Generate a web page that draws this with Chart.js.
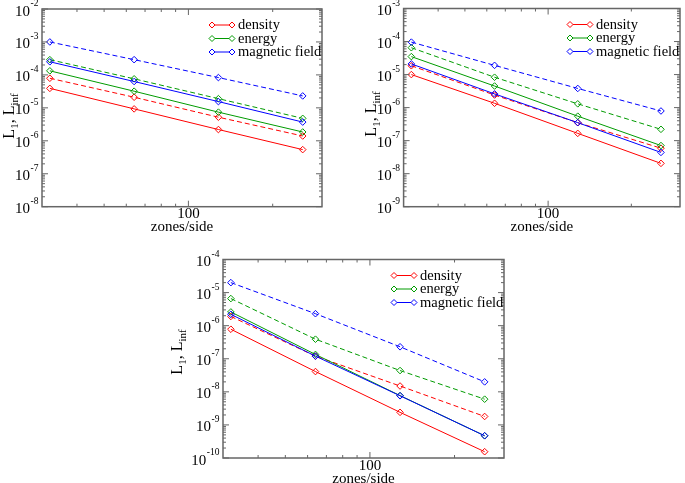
<!DOCTYPE html>
<html>
<head>
<meta charset="utf-8">
<script src="https://cdn.jsdelivr.net/npm/chart.js@4.4.1/dist/chart.umd.min.js"></script>
<style>
  body { margin: 0; background: #fff; width: 685px; height: 483px; position: relative; overflow: hidden; }
  canvas { position: absolute; }
</style>
</head>
<body>
<canvas id="errA" width="340" height="240" style="left:0;top:0"></canvas>
<canvas id="errB" width="345" height="240" style="left:340px;top:0"></canvas>
<canvas id="errC" width="360" height="243" style="left:160px;top:240px"></canvas>
<script>
// resolution of each run
const zones = [32, 64, 128, 256];
const seriesNames = ['density', 'energy', 'magnetic field'];
const seriesColors = ['rgb(255,0,0)', 'rgb(0,155,0)', 'rgb(0,0,255)'];
const xTickLabels = ['100'];

// top left panel (solid = L1, dashed = Linf)
const densityL1A = [3.9e-5, 9.3e-6, 2.2e-6, 5.4e-7];
const densityLinfA = [7.9e-5, 2.1e-5, 5.2e-6, 1.4e-6];
const energyL1A = [1.33e-4, 3.2e-5, 7.4e-6, 1.85e-6];
const energyLinfA = [2.9e-4, 7.6e-5, 1.9e-5, 4.8e-6];
const magL1A = [2.5e-4, 6.3e-5, 1.55e-5, 3.7e-6];
const magLinfA = [1.0e-3, 2.9e-4, 8.3e-5, 2.3e-5];

// top right panel
const densityL1B = [1.0e-5, 1.35e-6, 1.66e-7, 2.05e-8];
const densityLinfB = [1.85e-5, 2.4e-6, 3.5e-7, 5.9e-8];
const energyL1B = [3.5e-5, 4.5e-6, 5.5e-7, 7.1e-8];
const energyLinfB = [6.5e-5, 8.3e-6, 1.3e-6, 2.2e-7];
const magL1B = [2.1e-5, 2.6e-6, 3.5e-7, 4.4e-8];
const magLinfB = [9.6e-5, 1.9e-5, 3.8e-6, 7.9e-7];

// bottom panel
const densityL1C = [7.8e-7, 4.1e-8, 2.4e-9, 1.55e-10];
const densityLinfC = [1.9e-6, 1.2e-7, 1.5e-8, 1.8e-9];
const energyL1C = [2.6e-6, 1.35e-7, 7.7e-9, 4.7e-10];
const energyLinfC = [6.6e-6, 3.9e-7, 4.4e-8, 6.0e-9];
const magL1C = [2.2e-6, 1.2e-7, 7.6e-9, 4.7e-10];
const magLinfC = [2.0e-5, 2.3e-6, 2.3e-7, 2.0e-8];

const FONT = '"Liberation Serif", "Times New Roman", serif';

function lineSet(values, color, dashed) {
    return {
        data: zones.map((z, i) => ({x: z, y: values[i]})),
        borderColor: color,
        borderWidth: 1,
        borderDash: dashed ? [5, 3] : [],
        pointStyle: 'rectRot',
        pointRadius: 3.3,
        pointBorderWidth: 1,
        pointBorderColor: color,
        pointBackgroundColor: 'rgba(255,255,255,0)',
        fill: false,
        tension: 0,
    };
}

// frame, inward ticks, tick labels, titles and legend
const framePlugin = {
    id: 'frame',
    afterDraw(chart, args, opts) {
        const ctx = chart.ctx;
        const a = chart.chartArea;
        const x = chart.scales.x;
        const y = chart.scales.y;
        ctx.save();
        ctx.strokeStyle = '#666';
        ctx.lineWidth = 1.5;
        ctx.strokeRect(a.left, a.top, a.right - a.left, a.bottom - a.top);

        ctx.lineWidth = 1;
        const hTick = (px, len) => {
            ctx.beginPath();
            ctx.moveTo(px, a.bottom); ctx.lineTo(px, a.bottom - len);
            ctx.moveTo(px, a.top); ctx.lineTo(px, a.top + len);
            ctx.stroke();
        };
        const vTick = (py, len) => {
            ctx.beginPath();
            ctx.moveTo(a.left, py); ctx.lineTo(a.left + len, py);
            ctx.moveTo(a.right, py); ctx.lineTo(a.right - len, py);
            ctx.stroke();
        };
        [40, 50, 60, 70, 80, 90, 200].forEach(v => hTick(x.getPixelForValue(v), 3));
        [100].forEach(v => hTick(x.getPixelForValue(v), 6));

        // x tick label and title
        ctx.fillStyle = '#000';
        ctx.textAlign = 'center';
        ctx.textBaseline = 'alphabetic';
        ctx.font = '15px ' + FONT;
        xTickLabels.forEach(t => ctx.fillText(t, x.getPixelForValue(Number(t)), a.bottom + 11.5));
        ctx.fillText('zones/side', (a.left + a.right) / 2, a.bottom + 24.5);

        // y ticks and labels
        for (let e = opts.yMin; e <= opts.yMax; e++) {
            const py = y.getPixelForValue(Number('1e' + e));
            vTick(py, 6);
            if (e < opts.yMax) {
                for (let k = 2; k <= 9; k++) vTick(y.getPixelForValue(Number(k + 'e' + e)), 3);
            }
            const expText = String(e);
            ctx.font = '9.5px ' + FONT;
            const ew = ctx.measureText(expText).width;
            ctx.textAlign = 'left';
            ctx.fillText(expText, a.left - 3.5 - ew, py - 3);
            ctx.font = '15px ' + FONT;
            ctx.textAlign = 'right';
            ctx.fillText('10', a.left - 4 - ew, py + 6.5);
        }

        // rotated y title with subscripts
        const parts = [['L', false], ['1', true], [', L', false], ['inf', true]];
        ctx.translate(opts.titleX, opts.titleY);
        ctx.rotate(-Math.PI / 2);
        ctx.textAlign = 'left';
        let total = 0;
        parts.forEach(p => { ctx.font = (p[1] ? '11px ' : '16px ') + FONT; total += ctx.measureText(p[0]).width; });
        let cx = -total / 2;
        parts.forEach(p => {
            ctx.font = (p[1] ? '11px ' : '16px ') + FONT;
            ctx.fillText(p[0], cx, p[1] ? 4 : 0);
            cx += ctx.measureText(p[0]).width;
        });
        ctx.setTransform(1, 0, 0, 1, 0, 0);

        // legend
        const lx = a.right - 110;
        seriesNames.forEach((name, i) => {
            const ly = a.top + 16 + i * 13.5;
            ctx.strokeStyle = seriesColors[i];
            ctx.beginPath();
            ctx.moveTo(lx, ly); ctx.lineTo(lx + 20, ly);
            ctx.stroke();
            [lx, lx + 20].forEach(px => {
                ctx.beginPath();
                ctx.moveTo(px - 3, ly); ctx.lineTo(px, ly - 3); ctx.lineTo(px + 3, ly); ctx.lineTo(px, ly + 3);
                ctx.closePath();
                ctx.fillStyle = '#fff';
                ctx.fill();
                ctx.stroke();
            });
            ctx.fillStyle = '#000';
            ctx.font = '14.5px ' + FONT;
            ctx.fillText(name, lx + 26, ly + 4);
        });
        ctx.restore();
    }
};

function makePanel(id, box, yMin, yMax, sets) {
    // Chart.js paints the first dataset on top, so magnetic field goes first
    const datasets = [];
    for (let i = sets.length - 1; i >= 0; i--) {
        datasets.push(lineSet(sets[i][0], seriesColors[i], false));
        datasets.push(lineSet(sets[i][1], seriesColors[i], true));
    }
    return new Chart(document.getElementById(id), {
        type: 'line',
        data: {datasets},
        plugins: [framePlugin],
        options: {
            responsive: false,
            animation: false,
            events: [],
            layout: {padding: {left: 0, top: box.top, right: box.w - box.right, bottom: 0}},
            plugins: {
                legend: {display: false},
                tooltip: {enabled: false},
                frame: {yMin, yMax, titleX: box.titleX, titleY: box.titleY},
            },
            scales: {
                x: {
                    type: 'logarithmic', min: 30, max: 300,
                    ticks: {display: false},
                    grid: {display: false, drawTicks: false},
                    border: {display: false},
                    afterFit: s => { s.height = box.h - box.bottom; },
                },
                y: {
                    type: 'logarithmic', min: Number('1e' + yMin), max: Number('1e' + yMax),
                    ticks: {display: false},
                    grid: {display: false, drawTicks: false},
                    border: {display: false},
                    afterFit: s => { s.width = box.left; },
                },
            },
        },
    });
}

makePanel('errA', {w: 340, h: 240, left: 42, right: 322, top: 9, bottom: 206.7, titleX: 14, titleY: 116},
    -8, -2, [[densityL1A, densityLinfA], [energyL1A, energyLinfA], [magL1A, magLinfA]]);
makePanel('errB', {w: 345, h: 240, left: 63.6, right: 343.5, top: 8.5, bottom: 206.7, titleX: 35.5, titleY: 114},
    -9, -3, [[densityL1B, densityLinfB], [energyL1B, energyLinfB], [magL1B, magLinfB]]);
makePanel('errC', {w: 360, h: 243, left: 63, right: 344, top: 19.5, bottom: 218, titleX: 22, titleY: 112},
    -10, -4, [[densityL1C, densityLinfC], [energyL1C, energyLinfC], [magL1C, magLinfC]]);
</script>
</body>
</html>
